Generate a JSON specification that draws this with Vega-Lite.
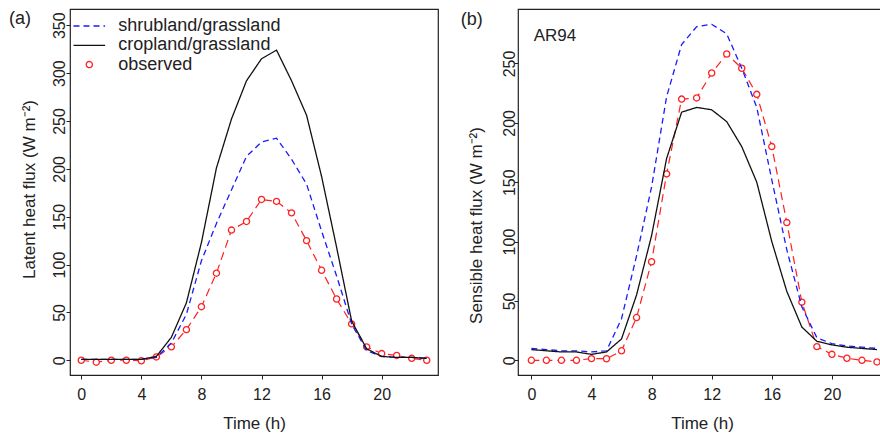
{
  "$schema": "https://vega.github.io/schema/vega-lite/v6.json",
  "padding": {"left": 8, "top": 8, "right": 0, "bottom": 0},
  "background": "white",
  "spacing": 21,
  "datasets": {
    "latModel": [
      {"hour":0,"series":"shrubland/grassland","flux":1},{"hour":1,"series":"shrubland/grassland","flux":1},{"hour":2,"series":"shrubland/grassland","flux":1},{"hour":3,"series":"shrubland/grassland","flux":1},{"hour":4,"series":"shrubland/grassland","flux":1},{"hour":5,"series":"shrubland/grassland","flux":3},{"hour":6,"series":"shrubland/grassland","flux":18},{"hour":7,"series":"shrubland/grassland","flux":48},{"hour":8,"series":"shrubland/grassland","flux":104},{"hour":9,"series":"shrubland/grassland","flux":143},{"hour":10,"series":"shrubland/grassland","flux":178},{"hour":11,"series":"shrubland/grassland","flux":213},{"hour":12,"series":"shrubland/grassland","flux":228},{"hour":13,"series":"shrubland/grassland","flux":232},{"hour":14,"series":"shrubland/grassland","flux":210},{"hour":15,"series":"shrubland/grassland","flux":184},{"hour":16,"series":"shrubland/grassland","flux":135},{"hour":17,"series":"shrubland/grassland","flux":88},{"hour":18,"series":"shrubland/grassland","flux":38},{"hour":19,"series":"shrubland/grassland","flux":10},{"hour":20,"series":"shrubland/grassland","flux":4},{"hour":21,"series":"shrubland/grassland","flux":3},{"hour":22,"series":"shrubland/grassland","flux":3},{"hour":23,"series":"shrubland/grassland","flux":2},
      {"hour":0,"series":"cropland/grassland","flux":1},{"hour":1,"series":"cropland/grassland","flux":1},{"hour":2,"series":"cropland/grassland","flux":1},{"hour":3,"series":"cropland/grassland","flux":1},{"hour":4,"series":"cropland/grassland","flux":1},{"hour":5,"series":"cropland/grassland","flux":4},{"hour":6,"series":"cropland/grassland","flux":24},{"hour":7,"series":"cropland/grassland","flux":60},{"hour":8,"series":"cropland/grassland","flux":123},{"hour":9,"series":"cropland/grassland","flux":201},{"hour":10,"series":"cropland/grassland","flux":252},{"hour":11,"series":"cropland/grassland","flux":292},{"hour":12,"series":"cropland/grassland","flux":315},{"hour":13,"series":"cropland/grassland","flux":324},{"hour":14,"series":"cropland/grassland","flux":292},{"hour":15,"series":"cropland/grassland","flux":256},{"hour":16,"series":"cropland/grassland","flux":192},{"hour":17,"series":"cropland/grassland","flux":118},{"hour":18,"series":"cropland/grassland","flux":41},{"hour":19,"series":"cropland/grassland","flux":12},{"hour":20,"series":"cropland/grassland","flux":4},{"hour":21,"series":"cropland/grassland","flux":3},{"hour":22,"series":"cropland/grassland","flux":3},{"hour":23,"series":"cropland/grassland","flux":2}
    ],
    "latObs": [
      {"hour":0,"series":"observed","flux":0},{"hour":1,"series":"observed","flux":-2},{"hour":2,"series":"observed","flux":0},{"hour":3,"series":"observed","flux":0},{"hour":4,"series":"observed","flux":-0.5},{"hour":5,"series":"observed","flux":3.5},{"hour":6,"series":"observed","flux":14},{"hour":7,"series":"observed","flux":32},{"hour":8,"series":"observed","flux":56},{"hour":9,"series":"observed","flux":91},{"hour":10,"series":"observed","flux":136},{"hour":11,"series":"observed","flux":145},{"hour":12,"series":"observed","flux":168},{"hour":13,"series":"observed","flux":166},{"hour":14,"series":"observed","flux":154},{"hour":15,"series":"observed","flux":125},{"hour":16,"series":"observed","flux":94},{"hour":17,"series":"observed","flux":64},{"hour":18,"series":"observed","flux":38},{"hour":19,"series":"observed","flux":14},{"hour":20,"series":"observed","flux":7},{"hour":21,"series":"observed","flux":5},{"hour":22,"series":"observed","flux":2},{"hour":23,"series":"observed","flux":0}
    ],
    "senModel": [
      {"hour":0,"series":"shrubland/grassland","flux":10},{"hour":1,"series":"shrubland/grassland","flux":9},{"hour":2,"series":"shrubland/grassland","flux":8},{"hour":3,"series":"shrubland/grassland","flux":8},{"hour":4,"series":"shrubland/grassland","flux":7},{"hour":5,"series":"shrubland/grassland","flux":8},{"hour":6,"series":"shrubland/grassland","flux":35},{"hour":7,"series":"shrubland/grassland","flux":88},{"hour":8,"series":"shrubland/grassland","flux":146},{"hour":9,"series":"shrubland/grassland","flux":222},{"hour":10,"series":"shrubland/grassland","flux":266},{"hour":11,"series":"shrubland/grassland","flux":281},{"hour":12,"series":"shrubland/grassland","flux":283},{"hour":13,"series":"shrubland/grassland","flux":275},{"hour":14,"series":"shrubland/grassland","flux":246},{"hour":15,"series":"shrubland/grassland","flux":213},{"hour":16,"series":"shrubland/grassland","flux":152},{"hour":17,"series":"shrubland/grassland","flux":93},{"hour":18,"series":"shrubland/grassland","flux":45},{"hour":19,"series":"shrubland/grassland","flux":19},{"hour":20,"series":"shrubland/grassland","flux":14},{"hour":21,"series":"shrubland/grassland","flux":12},{"hour":22,"series":"shrubland/grassland","flux":11},{"hour":23,"series":"shrubland/grassland","flux":10},
      {"hour":0,"series":"cropland/grassland","flux":9},{"hour":1,"series":"cropland/grassland","flux":8},{"hour":2,"series":"cropland/grassland","flux":7},{"hour":3,"series":"cropland/grassland","flux":7},{"hour":4,"series":"cropland/grassland","flux":5},{"hour":5,"series":"cropland/grassland","flux":7},{"hour":6,"series":"cropland/grassland","flux":18},{"hour":7,"series":"cropland/grassland","flux":55},{"hour":8,"series":"cropland/grassland","flux":105},{"hour":9,"series":"cropland/grassland","flux":170},{"hour":10,"series":"cropland/grassland","flux":209},{"hour":11,"series":"cropland/grassland","flux":213},{"hour":12,"series":"cropland/grassland","flux":211},{"hour":13,"series":"cropland/grassland","flux":201},{"hour":14,"series":"cropland/grassland","flux":180},{"hour":15,"series":"cropland/grassland","flux":150},{"hour":16,"series":"cropland/grassland","flux":100},{"hour":17,"series":"cropland/grassland","flux":58},{"hour":18,"series":"cropland/grassland","flux":28},{"hour":19,"series":"cropland/grassland","flux":16},{"hour":20,"series":"cropland/grassland","flux":13},{"hour":21,"series":"cropland/grassland","flux":11},{"hour":22,"series":"cropland/grassland","flux":10},{"hour":23,"series":"cropland/grassland","flux":9}
    ],
    "senObs": [
      {"hour":0,"series":"observed","flux":0},{"hour":1,"series":"observed","flux":0},{"hour":2,"series":"observed","flux":0},{"hour":3,"series":"observed","flux":0},{"hour":4,"series":"observed","flux":1.4},{"hour":5,"series":"observed","flux":1.3},{"hour":6,"series":"observed","flux":8},{"hour":7,"series":"observed","flux":36},{"hour":8,"series":"observed","flux":83},{"hour":9,"series":"observed","flux":157},{"hour":10,"series":"observed","flux":220},{"hour":11,"series":"observed","flux":221},{"hour":12,"series":"observed","flux":242},{"hour":13,"series":"observed","flux":258},{"hour":14,"series":"observed","flux":246},{"hour":15,"series":"observed","flux":224},{"hour":16,"series":"observed","flux":180},{"hour":17,"series":"observed","flux":116},{"hour":18,"series":"observed","flux":49},{"hour":19,"series":"observed","flux":11.5},{"hour":20,"series":"observed","flux":5},{"hour":21,"series":"observed","flux":1.7},{"hour":22,"series":"observed","flux":0},{"hour":23,"series":"observed","flux":-1.4}
    ],
    "tagA": [{"label":"(a)"}],
    "tagB": [{"label":"(b)"}],
    "site": [{"label":"AR94"}]
  },
  "hconcat": [
    {
      "width": 368,
      "height": 366,
      "layer": [
        {
          "data": {"name":"latObs"},
          "mark": {"type":"line","color":"#ff2020","strokeWidth":1.2,"strokeDash":[8,5]},
          "encoding": {
            "x": {"field":"hour","type":"quantitative","scale":{"domain":[-0.75,23.75],"nice":false,"zero":false},
                  "axis":{"values":[0,4,8,12,16,20],"format":"d","title":"Time (h)","labelPadding":7,"titleBaseline":"alphabetic","titleY":53.5}},
            "y": {"field":"flux","type":"quantitative","scale":{"domain":[-15.4,367],"nice":false,"zero":false},
                  "axis":{"values":[0,50,100,150,200,250,300,350],"title":"Latent heat flux (W m\u207b\u00b2)","labelAngle":270,"labelAlign":"center","labelBaseline":"alphabetic","labelPadding":2,"titleAngle":270,"titleAlign":"center","titleBaseline":"alphabetic","titleX":-36,"titleY":180}}
          }
        },
        {
          "data": {"name":"latObs"},
          "mark": {"type":"point","filled":false,"fill":"white","size":38,"strokeWidth":1.3,"opacity":1},
          "encoding": {
            "x": {"field":"hour","type":"quantitative"},
            "y": {"field":"flux","type":"quantitative"},
            "color": {"field":"series","type":"nominal","scale":{"domain":["shrubland/grassland","cropland/grassland","observed"],"range":["#1a1aff","#111111","#ff2020"]}},
            "shape": {"field":"series","type":"nominal","scale":{"domain":["shrubland/grassland","cropland/grassland","observed"],"range":["M-5.13,0H5.13","M-5.13,0H5.13","circle"]}}
          }
        },
        {
          "data": {"name":"latModel"},
          "mark": {"type":"line","strokeWidth":1.3},
          "encoding": {
            "x": {"field":"hour","type":"quantitative"},
            "y": {"field":"flux","type":"quantitative"},
            "color": {"field":"series","type":"nominal","scale":{"domain":["shrubland/grassland","cropland/grassland","observed"],"range":["#1a1aff","#111111","#ff2020"]}},
            "strokeDash": {"field":"series","type":"nominal","scale":{"domain":["shrubland/grassland","cropland/grassland","observed"],"range":[[6,4],[1,0],[1,0]]}}
          }
        },
        {
          "data": {"name":"tagA"},
          "mark": {"type":"text","align":"left","baseline":"alphabetic","fontSize":18,"color":"#222"},
          "encoding": {"x":{"datum":-4.81},"y":{"datum":351},"text":{"field":"label","type":"nominal"}}
        }
      ]
    },
    {
      "width": 368,
      "height": 366,
      "layer": [
        {
          "data": {"name":"senObs"},
          "mark": {"type":"line","color":"#ff2020","strokeWidth":1.2,"strokeDash":[8,5]},
          "encoding": {
            "x": {"field":"hour","type":"quantitative","scale":{"domain":[-0.89,23.6],"nice":false,"zero":false},
                  "axis":{"values":[0,4,8,12,16,20],"format":"d","title":"Time (h)","labelPadding":7,"titleBaseline":"alphabetic","titleY":53.5}},
            "y": {"field":"flux","type":"quantitative","scale":{"domain":[-12.4,295.9],"nice":false,"zero":false},
                  "axis":{"values":[0,50,100,150,200,250],"title":"Sensible heat flux (W m\u207b\u00b2)","labelAngle":270,"labelAlign":"center","labelBaseline":"alphabetic","labelPadding":0,"titleAngle":270,"titleAlign":"center","titleBaseline":"alphabetic","titleX":-37,"titleY":216}}
          }
        },
        {
          "data": {"name":"senObs"},
          "mark": {"type":"point","filled":false,"fill":"white","size":38,"strokeWidth":1.3,"color":"#ff2020","opacity":1},
          "encoding": {
            "x": {"field":"hour","type":"quantitative"},
            "y": {"field":"flux","type":"quantitative"}
          }
        },
        {
          "data": {"name":"senModel"},
          "mark": {"type":"line","strokeWidth":1.3},
          "encoding": {
            "x": {"field":"hour","type":"quantitative"},
            "y": {"field":"flux","type":"quantitative"},
            "color": {"field":"series","type":"nominal","scale":{"domain":["shrubland/grassland","cropland/grassland"],"range":["#1a1aff","#111111"]},"legend":null},
            "strokeDash": {"field":"series","type":"nominal","scale":{"domain":["shrubland/grassland","cropland/grassland"],"range":[[6,4],[1,0]]},"legend":null}
          }
        },
        {
          "data": {"name":"tagB"},
          "mark": {"type":"text","align":"left","baseline":"alphabetic","fontSize":18,"color":"#222"},
          "encoding": {"x":{"datum":-4.7},"y":{"datum":282.3},"text":{"field":"label","type":"nominal"}}
        },
        {
          "data": {"name":"site"},
          "mark": {"type":"text","align":"left","baseline":"alphabetic","fontSize":17,"color":"#222"},
          "encoding": {"x":{"datum":0.155},"y":{"datum":269.2},"text":{"field":"label","type":"nominal"}}
        }
      ]
    }
  ],
  "resolve": {"scale": {"color":"independent","strokeDash":"independent","shape":"independent"}},
  "config": {
    "font": "Liberation Sans",
    "view": {"stroke": "#222", "strokeWidth": 1.2},
    "axis": {"grid": false, "domain": false, "tickColor": "#222", "tickSize": 4, "tickWidth": 1, "labelFontSize": 16, "titleFontSize": 17, "labelColor": "#222", "titleColor": "#222", "titleFontWeight": "normal", "labelFont": "Liberation Sans", "titleFont": "Liberation Sans"},
    "legend": {"title": null, "orient": "none", "legendX": 10.3, "legendY": 8, "padding": 0, "labelFontSize": 18, "labelLimit": 400, "labelColor": "#222", "labelFont": "Liberation Sans", "symbolSize": 38, "symbolStrokeWidth": 1.3, "labelOffset": 20, "rowPadding": 1.3}
  }
}
